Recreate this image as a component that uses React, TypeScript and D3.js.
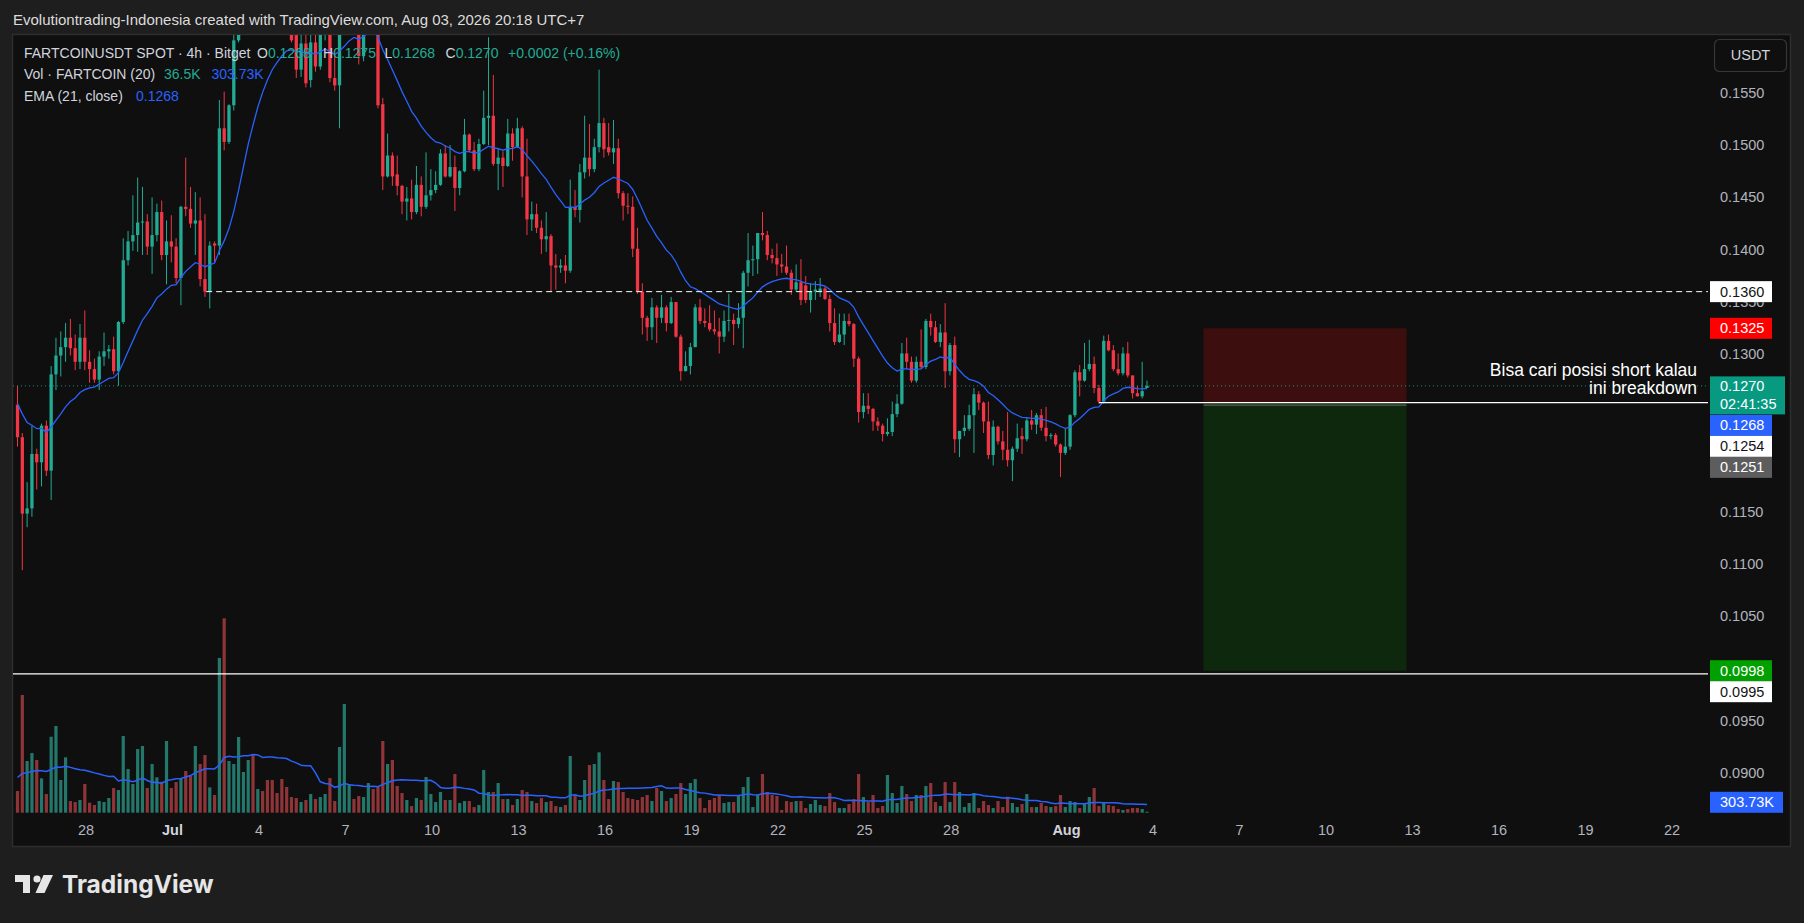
import React from 'react';
import * as d3 from 'd3';

const W = 1804;
const H = 923;

// ---- Data (4h candles, FARTCOINUSDT, UTC+7 timestamps) ----
const START_TIME = Date.UTC(2026, 5, 25, 15); // first bar open, Jun 25 15:00
const BAR_MS = 4 * 3600 * 1000;

const OPEN = [
  .1252,.1221,.1148,.1153,.1205,.1197,.1232,.1189,.1281,.1299,.1307,.1316,.1306,.1293,.1316,.1293,.1286,.1276,.1298,.1303,
  .1305,.1284,.1331,.1390,.1408,.1414,.1426,.1427,.1403,.1414,.1436,.1395,.1408,.1403,.1373,.1441,.1439,.1425,.1428,.1372,
  .1360,.1406,.1404,.1516,.1503,.1538,.1600,.1660,.1700,.1720,.1700,.1710,.1690,.1680,.1670,.1650,.1645,.1640,.1605,.1572,
  .1597,.1562,.1598,.1575,.1610,.1625,.1564,.1557,.1625,.1640,.1650,.1635,.1585,.1630,.1645,.1630,.1539,.1470,.1490,.1472,
  .1461,.1446,.1449,.1436,.1462,.1441,.1452,.1457,.1462,.1492,.1470,.1479,.1459,.1475,.1510,.1495,.1477,.1501,.1526,.1528,
  .1482,.1488,.1480,.1511,.1498,.1516,.1470,.1429,.1434,.1421,.1410,.1413,.1385,.1383,.1385,.1380,.1441,.1438,.1474,.1488,
  .1477,.1498,.1521,.1498,.1493,.1497,.1454,.1442,.1441,.1401,.1360,.1335,.1326,.1345,.1335,.1345,.1330,.1350,.1317,.1284,
  .1289,.1307,.1345,.1332,.1330,.1324,.1322,.1317,.1332,.1333,.1329,.1335,.1378,.1390,.1391,.1416,.1414,.1395,.1392,.1386,
  .1384,.1378,.1362,.1369,.1366,.1352,.1360,.1360,.1363,.1353,.1330,.1312,.1319,.1332,.1329,.1296,.1245,.1251,.1248,.1236,
  .1232,.1224,.1226,.1243,.1253,.1301,.1293,.1275,.1293,.1288,.1332,.1326,.1312,.1321,.1284,.1309,.1219,.1227,.1229,.1242,
  .1262,.1254,.1236,.1204,.1231,.1217,.1209,.1199,.1210,.1222,.1219,.1237,.1233,.1242,.1230,.1222,.1223,.1214,.1206,.1212,
  .1242,.1283,.1275,.1286,.1291,.1268,.1255,.1313,.1304,.1286,.1282,.1301,.1280,.1263,.1260,.1268
];
const HIGH = [
  .1270,.1225,.1178,.1232,.1210,.1234,.1237,.1289,.1316,.1322,.1330,.1334,.1319,.1329,.1342,.1304,.1296,.1303,.1321,.1309,
  .1317,.1332,.1411,.1418,.1452,.1469,.1460,.1434,.1450,.1444,.1447,.1428,.1433,.1411,.1442,.1488,.1460,.1455,.1450,.1434,
  .1408,.1408,.1543,.1551,.1539,.1612,.1675,.1715,.1740,.1735,.1730,.1725,.1705,.1700,.1690,.1670,.1665,.1655,.1625,.1620,
  .1610,.1615,.1612,.1625,.1640,.1635,.1590,.1640,.1660,.1668,.1662,.1648,.1645,.1660,.1655,.1640,.1545,.1511,.1493,.1490,
  .1462,.1460,.1467,.1480,.1470,.1493,.1477,.1475,.1496,.1500,.1500,.1490,.1476,.1525,.1511,.1503,.1506,.1552,.1603,.1567,
  .1497,.1494,.1525,.1516,.1526,.1518,.1506,.1446,.1444,.1428,.1436,.1415,.1396,.1391,.1395,.1467,.1457,.1482,.1528,.1520,
  .1506,.1572,.1526,.1521,.1524,.1506,.1456,.1454,.1451,.1421,.1368,.1337,.1354,.1347,.1357,.1347,.1355,.1350,.1319,.1303,
  .1311,.1348,.1353,.1344,.1347,.1342,.1335,.1342,.1358,.1339,.1349,.1380,.1416,.1404,.1416,.1436,.1418,.1401,.1406,.1396,
  .1404,.1381,.1386,.1391,.1375,.1368,.1370,.1373,.1365,.1357,.1344,.1339,.1339,.1339,.1330,.1298,.1263,.1263,.1249,.1240,
  .1234,.1239,.1255,.1262,.1311,.1316,.1298,.1298,.1324,.1334,.1339,.1332,.1329,.1349,.1311,.1317,.1227,.1242,.1252,.1268,
  .1265,.1255,.1255,.1237,.1232,.1227,.1245,.1212,.1234,.1230,.1240,.1247,.1244,.1248,.1250,.1225,.1225,.1215,.1229,.1243,
  .1285,.1290,.1311,.1314,.1298,.1271,.1318,.1319,.1309,.1301,.1307,.1312,.1280,.1270,.1293,.1275
];
const LOW = [
  .1212,.1094,.1135,.1145,.1171,.1174,.1184,.1161,.1266,.1279,.1293,.1299,.1285,.1286,.1285,.1273,.1273,.1266,.1289,.1296,
  .1281,.1270,.1329,.1385,.1399,.1398,.1395,.1395,.1377,.1408,.1390,.1367,.1388,.1368,.1347,.1432,.1421,.1395,.1365,.1355,
  .1344,.1388,.1395,.1495,.1501,.1533,.1598,.1640,.1680,.1675,.1680,.1670,.1655,.1650,.1630,.1625,.1615,.1598,.1564,.1565,
  .1555,.1555,.1570,.1572,.1600,.1560,.1552,.1516,.1612,.1625,.1618,.1577,.1580,.1615,.1612,.1535,.1457,.1469,.1461,.1452,
  .1434,.1428,.1429,.1434,.1432,.1439,.1447,.1454,.1461,.1469,.1469,.1437,.1452,.1474,.1493,.1475,.1475,.1500,.1500,.1480,
  .1457,.1460,.1479,.1485,.1497,.1450,.1414,.1418,.1416,.1396,.1398,.1360,.1362,.1378,.1368,.1378,.1431,.1426,.1468,.1470,
  .1474,.1493,.1488,.1490,.1482,.1449,.1428,.1434,.1393,.1358,.1319,.1313,.1314,.1311,.1330,.1322,.1329,.1316,.1275,.1284,
  .1281,.1307,.1329,.1326,.1322,.1319,.1301,.1312,.1322,.1309,.1325,.1306,.1365,.1375,.1377,.1409,.1390,.1387,.1375,.1378,
  .1376,.1357,.1360,.1347,.1349,.1340,.1352,.1355,.1352,.1322,.1309,.1311,.1309,.1327,.1288,.1235,.1239,.1243,.1227,.1227,
  .1217,.1222,.1222,.1240,.1252,.1286,.1273,.1273,.1286,.1286,.1318,.1311,.1307,.1268,.1280,.1206,.1202,.1222,.1227,.1206,
  .1247,.1225,.1200,.1194,.1214,.1199,.1193,.1179,.1207,.1205,.1217,.1228,.1224,.1227,.1217,.1219,.1212,.1183,.1204,.1209,
  .1240,.1260,.1274,.1284,.1263,.1253,.1253,.1303,.1284,.1280,.1280,.1278,.1258,.1260,.1258,.1268
];
const CLOSE = [
  .1221,.1148,.1153,.1205,.1197,.1232,.1189,.1281,.1299,.1307,.1316,.1306,.1293,.1316,.1293,.1286,.1276,.1298,.1303,.1305,
  .1284,.1331,.1390,.1408,.1414,.1426,.1427,.1403,.1414,.1436,.1395,.1408,.1403,.1373,.1441,.1439,.1425,.1428,.1372,.1360,
  .1404,.1404,.1516,.1503,.1538,.1600,.1660,.1700,.1720,.1700,.1710,.1690,.1680,.1670,.1650,.1645,.1640,.1600,.1572,.1597,
  .1559,.1598,.1575,.1610,.1620,.1564,.1557,.1625,.1640,.1650,.1635,.1585,.1630,.1645,.1630,.1538,.1470,.1490,.1470,.1461,
  .1446,.1449,.1436,.1462,.1441,.1452,.1457,.1462,.1492,.1470,.1479,.1459,.1475,.1510,.1495,.1477,.1501,.1526,.1528,.1482,
  .1488,.1480,.1511,.1498,.1516,.1470,.1429,.1434,.1421,.1410,.1413,.1385,.1383,.1385,.1380,.1441,.1438,.1474,.1488,.1477,
  .1498,.1521,.1496,.1493,.1497,.1454,.1442,.1441,.1401,.1360,.1335,.1326,.1345,.1335,.1345,.1330,.1350,.1317,.1284,.1289,
  .1307,.1345,.1332,.1330,.1324,.1322,.1317,.1332,.1333,.1329,.1335,.1378,.1390,.1391,.1416,.1414,.1395,.1392,.1386,.1384,
  .1378,.1362,.1369,.1352,.1352,.1360,.1362,.1363,.1353,.1330,.1312,.1319,.1332,.1329,.1296,.1245,.1251,.1248,.1236,.1232,
  .1224,.1226,.1243,.1253,.1301,.1293,.1275,.1293,.1288,.1332,.1326,.1312,.1321,.1284,.1309,.1219,.1227,.1230,.1242,.1262,
  .1254,.1236,.1204,.1231,.1217,.1209,.1199,.1210,.1220,.1219,.1237,.1233,.1242,.1230,.1222,.1223,.1214,.1206,.1212,.1242,
  .1283,.1275,.1286,.1291,.1268,.1255,.1313,.1304,.1286,.1282,.1301,.1280,.1263,.1260,.1265,.1270
];
// volume in thousands
const VOLUME_K = [
  785,4260,1870,2160,1907,1243,676,2750,3140,1183,2004,422,386,459,1038,362,278,422,386,531,
  893,821,2776,1581,1038,2305,2414,893,1762,1280,1122,2595,893,1110,1243,1509,1328,2414,1762,2088,
  917,640,5600,7037,1870,1762,2740,1473,1907,2088,857,785,1183,1183,712,1219,929,567,531,386,
  459,676,495,567,676,1255,422,2378,3935,1038,495,604,567,1074,857,929,2595,1762,1907,966,
  712,459,241,531,459,1292,676,386,748,459,459,1400,350,422,422,205,278,1545,748,748,
  1074,495,495,278,495,821,748,422,350,531,386,422,241,205,278,2052,628,459,1183,1726,
  1762,2185,1183,495,1147,1110,748,531,495,459,567,640,422,893,785,422,531,676,1074,676,
  1074,1219,531,169,459,531,640,350,386,386,604,929,1292,205,640,1400,748,640,604,97,
  422,386,422,422,169,314,459,278,241,712,386,169,169,314,495,1400,567,386,640,169,
  241,1364,712,350,966,676,422,640,640,966,1074,386,241,1110,386,1110,748,205,350,712,
  169,422,278,169,422,205,579,350,205,314,676,205,205,350,241,205,241,640,205,422,
  386,169,350,567,893,241,386,278,241,133,97,133,169,169,133,36.5
];
const EMA_SEED = 0.1256; // EMA(21) value before the first visible bar
const VOL_MA_SEED_K = 1300; // average volume before the first visible bar

// price-scale tick labels that are not covered by the price labels
const PRICE_TICKS = [0.155, 0.15, 0.145, 0.14, 0.135, 0.13, 0.115, 0.11, 0.105, 0.095, 0.09];
const DATE_TICKS: { t: number; label: string; month?: boolean }[] = [
  { t: Date.UTC(2026, 5, 28), label: '28' },
  { t: Date.UTC(2026, 6, 1), label: 'Jul', month: true },
  { t: Date.UTC(2026, 6, 4), label: '4' },
  { t: Date.UTC(2026, 6, 7), label: '7' },
  { t: Date.UTC(2026, 6, 10), label: '10' },
  { t: Date.UTC(2026, 6, 13), label: '13' },
  { t: Date.UTC(2026, 6, 16), label: '16' },
  { t: Date.UTC(2026, 6, 19), label: '19' },
  { t: Date.UTC(2026, 6, 22), label: '22' },
  { t: Date.UTC(2026, 6, 25), label: '25' },
  { t: Date.UTC(2026, 6, 28), label: '28' },
  { t: Date.UTC(2026, 7, 1), label: 'Aug', month: true },
  { t: Date.UTC(2026, 7, 4), label: '4' },
  { t: Date.UTC(2026, 7, 7), label: '7' },
  { t: Date.UTC(2026, 7, 10), label: '10' },
  { t: Date.UTC(2026, 7, 13), label: '13' },
  { t: Date.UTC(2026, 7, 16), label: '16' },
  { t: Date.UTC(2026, 7, 19), label: '19' },
  { t: Date.UTC(2026, 7, 22), label: '22' },
];

const LAST_PRICE = 0.127;
const RESIST_LEVEL = 0.136;
const RESIST_START = Date.UTC(2026, 6, 2, 4);
const BREAK_LEVEL = 0.1254;
const BREAK_START = Date.UTC(2026, 7, 2, 3);
const TARGET_LINE = 0.0995;
const POS_ENTRY = 0.1254;
const POS_STOP = 0.1325;
const POS_TARGET = 0.0998;
const POS_START = Date.UTC(2026, 7, 5, 18);
const POS_END = Date.UTC(2026, 7, 12, 19);

const HEADER_TEXT = 'Evolutiontrading-Indonesia created with TradingView.com, Aug 03, 2026 20:18 UTC+7';
const NOTE_LINES = ['Bisa cari posisi short kalau', 'ini breakdown'];

// ---- Colors ----
const UP = '#22ab94';
const DOWN = '#f23645';
const UP_VOL = '#23786b';
const DOWN_VOL = '#8f3538';
const BLUE = '#2962ff';
const FONT = "'Liberation Sans', Arial, sans-serif";

export default function App() {
  const n = CLOSE.length;
  const times = d3.range(n).map((i) => START_TIME + i * BAR_MS);

  const x = d3.scaleUtc().domain([Date.UTC(2026, 5, 28), Date.UTC(2026, 7, 4)]).range([86, 1153]);
  const y = d3.scaleLinear().domain([0.09, 0.155]).range([773.3, 92.7]);
  const yv = d3.scaleLinear().domain([0, 7000]).range([812.7, 619.3]);

  // EMA 21
  const alpha = 2 / 22;
  const ema: number[] = [];
  let prev = EMA_SEED;
  for (let i = 0; i < n; i++) {
    prev = alpha * CLOSE[i] + (1 - alpha) * prev;
    ema.push(prev);
  }
  // Volume SMA 20
  const volMA = d3.range(n).map((i) => {
    let s = 0;
    for (let j = i - 19; j <= i; j++) s += j < 0 ? VOL_MA_SEED_K : VOLUME_K[j];
    return s / 20;
  });

  const emaLine = d3.line<number>().x((_, i) => x(times[i])).y((d) => y(d));
  const volLine = d3.line<number>().x((_, i) => x(times[i])).y((d) => yv(d));

  const chartL = 13;
  const chartR = 1708;
  const chartT = 35;
  const chartB = 815;

  const bodyW = 3.3;
  const volW = 3.2;

  const priceFmt = (v: number) => v.toFixed(4);

  const boxX = 1710;

  const yLast = y(LAST_PRICE);
  const boxes = [
    { label: priceFmt(RESIST_LEVEL), cy: y(RESIST_LEVEL), bg: '#ffffff', fg: '#131313', w: 62 },
    { label: priceFmt(POS_STOP), cy: y(POS_STOP), bg: '#ff0000', fg: '#ffffff', w: 62 },
    { label: '0.1268', cy: yLast + 39.5, bg: BLUE, fg: '#ffffff', w: 62 },
    { label: priceFmt(BREAK_LEVEL), cy: yLast + 60.5, bg: '#ffffff', fg: '#131313', w: 62 },
    { label: '0.1251', cy: yLast + 81.5, bg: '#5d5d5d', fg: '#ffffff', w: 62 },
    { label: priceFmt(POS_TARGET), cy: y(POS_TARGET), bg: '#00a000', fg: '#ffffff', w: 62 },
    { label: priceFmt(TARGET_LINE), cy: y(POS_TARGET) + 21, bg: '#ffffff', fg: '#131313', w: 62 },
    { label: '303.73K', cy: 802.3, bg: BLUE, fg: '#ffffff', w: 73 },
  ];

  return (
    <div style={{ position: 'absolute', left: 0, top: 0, width: W, height: H }}>
      <svg width={W} height={H} viewBox={`0 0 ${W} ${H}`} style={{ display: 'block' }}>
        <defs>
          <clipPath id="plot">
            <rect x={chartL} y={chartT} width={chartR - chartL} height={chartB - chartT} />
          </clipPath>
          <clipPath id="tick1350">
            <rect x={1712} y={y(RESIST_LEVEL) + 10.5} width={70} height={12} />
          </clipPath>
        </defs>
        <rect x={0} y={0} width={W} height={H} fill="#1e1e1e" />
        <text x={13} y={25} fontFamily={FONT} fontSize={15} fill="#dcdcdc">
          {HEADER_TEXT}
        </text>
        <rect x={12.5} y={34.5} width={1778} height={812} fill="#0f0f0f" stroke="#2e2e2e" strokeWidth={1.5} />

        <g clipPath="url(#plot)">
          {/* volume */}
          {VOLUME_K.map((v, i) => {
            const up = CLOSE[i] >= OPEN[i];
            const xv = x(times[i]);
            return (
              <rect
                key={'v' + i}
                x={xv - volW / 2}
                y={yv(v)}
                width={volW}
                height={Math.max(0.8, yv(0) - yv(v))}
                fill={up ? UP_VOL : DOWN_VOL}
              />
            );
          })}
          <path d={volLine(volMA) || ''} fill="none" stroke={BLUE} strokeWidth={1.5} />

          {/* position tool */}
          <rect x={x(POS_START)} y={y(POS_STOP)} width={x(POS_END) - x(POS_START)} height={y(POS_ENTRY) - y(POS_STOP)} fill="#3d0e0e" />
          <rect x={x(POS_START)} y={y(POS_ENTRY)} width={x(POS_END) - x(POS_START)} height={y(POS_TARGET) - y(POS_ENTRY)} fill="#0e280e" />
          <line x1={x(POS_START)} x2={x(POS_END)} y1={y(POS_ENTRY) + 2.5} y2={y(POS_ENTRY) + 2.5} stroke="#6b6b6b" strokeWidth={1} />

          {/* candles */}
          {CLOSE.map((c, i) => {
            const o = OPEN[i];
            const up = c >= o;
            const col = up ? UP : DOWN;
            const xc = x(times[i]);
            const top = y(Math.max(o, c));
            const bot = y(Math.min(o, c));
            return (
              <g key={'c' + i}>
                <line x1={xc} x2={xc} y1={y(HIGH[i])} y2={y(LOW[i])} stroke={col} strokeWidth={1} />
                <rect x={xc - bodyW / 2} y={top} width={bodyW} height={Math.max(1, bot - top)} fill={col} />
              </g>
            );
          })}
          <path d={emaLine(ema) || ''} fill="none" stroke={BLUE} strokeWidth={1.3} />

          {/* horizontal levels */}
          <line x1={chartL} x2={chartR} y1={yLast} y2={yLast} stroke={UP} strokeWidth={1} strokeDasharray="1 3" opacity={0.8} />
          <line x1={x(RESIST_START)} x2={chartR} y1={y(RESIST_LEVEL)} y2={y(RESIST_LEVEL)} stroke="#ffffff" strokeWidth={1} strokeDasharray="6 4" />
          <line x1={x(BREAK_START)} x2={chartR} y1={y(BREAK_LEVEL)} y2={y(BREAK_LEVEL)} stroke="#ffffff" strokeWidth={1.2} />
          <line x1={chartL} x2={chartR} y1={y(TARGET_LINE)} y2={y(TARGET_LINE)} stroke="#ffffff" strokeWidth={1.2} />
        </g>

        {/* note */}
        {NOTE_LINES.map((t, i) => (
          <text key={'n' + i} x={1697} y={376 + i * 17.5} textAnchor="end" fontFamily={FONT} fontSize={17.5} fill="#ffffff">
            {t}
          </text>
        ))}

        {/* legend */}
        <g fontFamily={FONT} fontSize={14}>
          <text x={24} y={57.5} fill="#d1d4dc">FARTCOINUSDT SPOT · 4h · Bitget</text>
          <text x={257} y={57.5} fill="#d1d4dc">O<tspan fill={UP}>0.1268</tspan></text>
          <text x={323} y={57.5} fill="#d1d4dc">H<tspan fill={UP}>0.1275</tspan></text>
          <text x={384.5} y={57.5} fill="#d1d4dc">L<tspan fill={UP}>0.1268</tspan></text>
          <text x={445.5} y={57.5} fill="#d1d4dc">C<tspan fill={UP}>0.1270</tspan></text>
          <text x={508} y={57.5} fill={UP}>+0.0002 (+0.16%)</text>
          <text x={24} y={79} fill="#d1d4dc">Vol · FARTCOIN (20)</text>
          <text x={164} y={79} fill={UP}>36.5K</text>
          <text x={211.5} y={79} fill={BLUE}>303.73K</text>
          <text x={24} y={100.5} fill="#d1d4dc">EMA (21, close)</text>
          <text x={136} y={100.5} fill={BLUE}>0.1268</text>
        </g>

        {/* price axis */}
        {PRICE_TICKS.map((p) => (
          <text
            key={'p' + p}
            x={1720}
            y={y(p) + 5}
            fontFamily={FONT}
            fontSize={14.5}
            fill="#b2b5be"
            clipPath={p === 0.135 ? 'url(#tick1350)' : undefined}
          >
            {priceFmt(p)}
          </text>
        ))}
        <rect x={1714.5} y={39.5} width={72} height={32} rx={5} fill="#0f0f0f" stroke="#363636" strokeWidth={1.2} />
        <text x={1750.5} y={60} textAnchor="middle" fontFamily={FONT} fontSize={14.5} fill="#d1d4dc">USDT</text>

        {boxes.map((b, i) => (
          <g key={'b' + i}>
            <rect x={boxX} y={b.cy - 10.5} width={b.w} height={21} fill={b.bg} />
            <text x={1720} y={b.cy + 5} fontFamily={FONT} fontSize={14.5} fill={b.fg}>{b.label}</text>
          </g>
        ))}
        <rect x={boxX} y={yLast - 9.5} width={75} height={38} fill="#089981" />
        <text x={1720} y={yLast + 5} fontFamily={FONT} fontSize={14.5} fill="#ffffff">{priceFmt(LAST_PRICE)}</text>
        <text x={1720} y={yLast + 23} fontFamily={FONT} fontSize={14.5} fill="#ffffff">02:41:35</text>

        {/* time axis */}
        {DATE_TICKS.map((d) => (
          <text
            key={'d' + d.t}
            x={x(d.t)}
            y={835}
            textAnchor="middle"
            fontFamily={FONT}
            fontSize={14.5}
            fontWeight={d.month ? 'bold' : 'normal'}
            fill={d.month ? '#d1d4dc' : '#b2b5be'}
          >
            {d.label}
          </text>
        ))}

        {/* TradingView logo */}
        <g fill="#e6e6e6">
          <rect x={15} y={875} width={15} height={7} />
          <rect x={23} y={875} width={7} height={18} />
          <circle cx={37} cy={879} r={3.6} />
          <polygon points="43.5,875 53,875 44.5,893 35.5,893" />
          <text x={62} y={893} fontFamily="Inter, 'Liberation Sans', sans-serif" fontSize={24.5} fontWeight={700}>
            TradingView
          </text>
        </g>
      </svg>
    </div>
  );
}
